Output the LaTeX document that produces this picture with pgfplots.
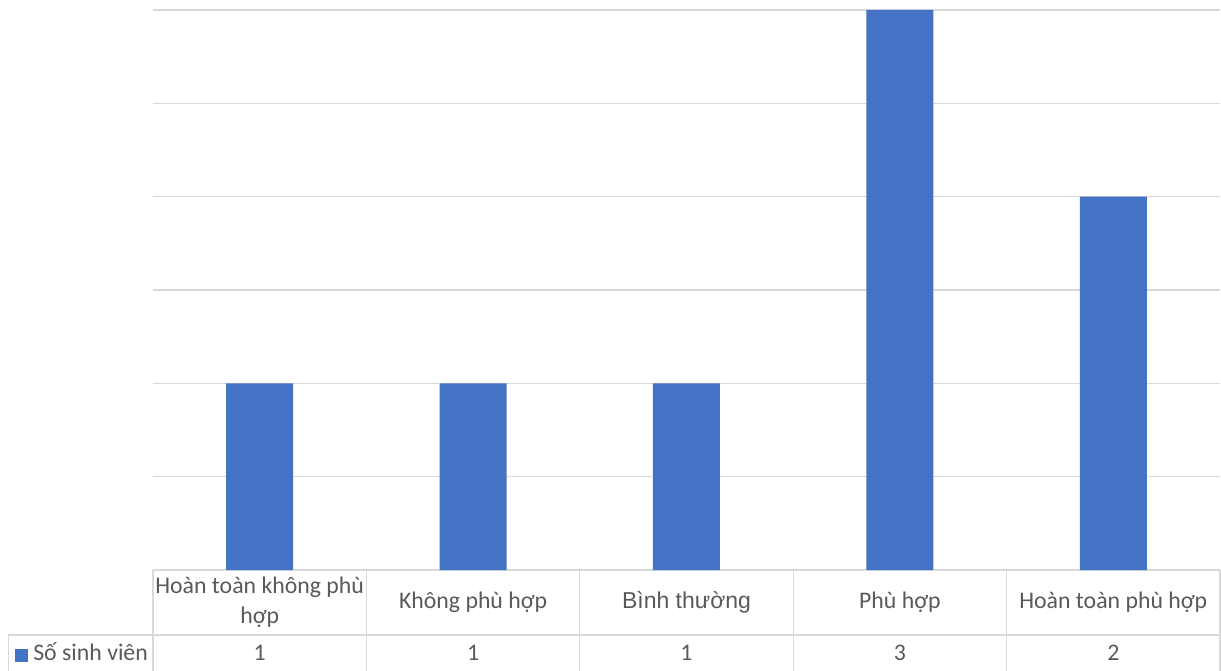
\documentclass[border=0pt]{standalone}
\usepackage{pgfplots}
\pgfplotsset{compat=1.18}
\usepackage{pgfplotstable}
\usepackage{fontspec}
\setmainfont{Carlito}
\newfontfamily\arialfont{Liberation Sans}
\definecolor{barblue}{HTML}{4472C4}
\definecolor{gridgray}{HTML}{D9D9D9}
\definecolor{txtgray}{HTML}{595959}

\pgfplotstableread{
x v
0 1
1 1
2 1
3 3
4 2
}\data

\begin{document}
\begin{tikzpicture}
\useasboundingbox (0pt,0pt) rectangle (1221pt,670pt);
\begin{axis}[
  at={(153pt,100pt)}, anchor=south west,
  scale only axis,
  width=1067pt, height=560pt,
  xmin=-0.5, xmax=4.5,
  ymin=0, ymax=3,
  ytick={0,0.5,...,3}, yticklabels={},
  ymajorgrids, grid style={gridgray, line width=1.2pt},
  xtick=data,
  xticklabels={{Hoàn toàn không phù\\hợp}, {Không phù hợp}, {\arialfont\fontsize{23}{30}\selectfont Bình thường}, {Phù hợp}, {Hoàn toàn phù hợp}},
  xticklabel style={anchor=center, yshift=-32pt, align=center, font=\fontsize{23.8}{30}\selectfont, text=txtgray},
  major tick length=0pt,
  axis line style={draw=none},
  tick style={draw=none},
  clip=false,
  /pgf/number format/assume math mode=true,
]
\addplot[ybar, bar width=67pt, fill=barblue, draw=none] table[x=x, y=v] {\data};
\addplot[draw=none, mark=none, nodes near coords, point meta=explicit,
  nodes near coords style={anchor=center, font=\fontsize{23.8}{28}\selectfont, text=txtgray}]
  table[x=x, y expr=-0.442, meta=v] {\data};
% data table grid
\draw[gridgray, line width=1.2pt] (axis cs:-1.179,-0.348) -- (axis cs:4.5,-0.348);
\draw[gridgray, line width=1.2pt] (axis cs:-1.179,-0.348) -- (axis cs:-1.179,-0.6);
\draw[gridgray, line width=1.2pt] (axis cs:-0.5,0) -- (axis cs:-0.5,-0.6);
\draw[gridgray, line width=1.2pt] (axis cs:0.5,0) -- (axis cs:0.5,-0.6);
\draw[gridgray, line width=1.2pt] (axis cs:1.5,0) -- (axis cs:1.5,-0.6);
\draw[gridgray, line width=1.2pt] (axis cs:2.5,0) -- (axis cs:2.5,-0.6);
\draw[gridgray, line width=1.2pt] (axis cs:3.5,0) -- (axis cs:3.5,-0.6);
\draw[gridgray, line width=1.2pt] (axis cs:4.5,0) -- (axis cs:4.5,-0.6);
% legend key
\node[anchor=west, inner sep=0pt, text=txtgray, font=\fontsize{23.8}{28}\selectfont]
  at ([xshift=7pt]axis cs:-1.179,-0.442) {\textcolor{barblue}{\rule[-1pt]{13pt}{13pt}}\hspace{5pt}Số sinh viên};
\end{axis}
\end{tikzpicture}
\end{document}
